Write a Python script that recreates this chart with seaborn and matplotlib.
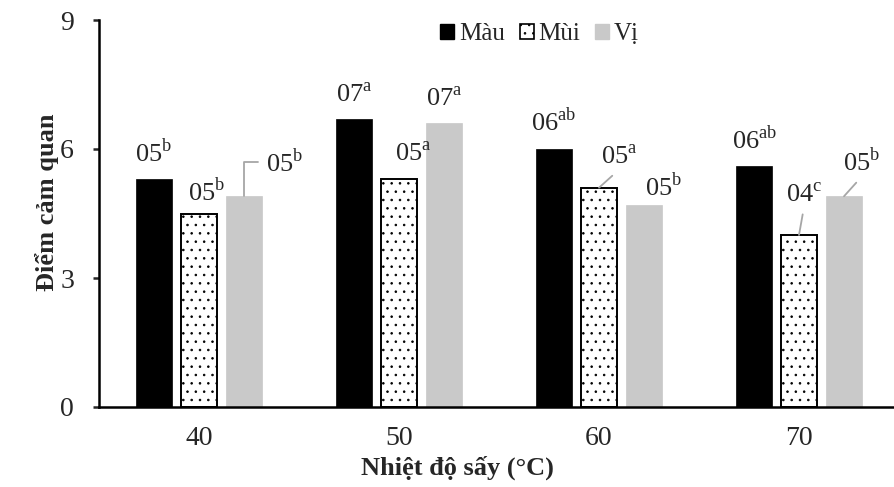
import pandas as pd
import seaborn as sns
import matplotlib.pyplot as plt
from matplotlib.patches import Patch

# Dữ liệu
nhiet_do = ['40', '50', '60', '70']
chi_tieu = ['Màu', 'Mùi', 'Vị']
diem_mau = [5.3, 6.7, 6.0, 5.6]
diem_mui = [4.5, 5.3, 5.1, 4.0]
diem_vi = [4.9, 6.6, 4.7, 4.9]
nhan_mau = ['05$^{\\mathrm{b}}$', '07$^{\\mathrm{a}}$', '06$^{\\mathrm{ab}}$', '06$^{\\mathrm{ab}}$']
nhan_mui = ['05$^{\\mathrm{b}}$', '05$^{\\mathrm{a}}$', '05$^{\\mathrm{a}}$', '04$^{\\mathrm{c}}$']
nhan_vi = ['05$^{\\mathrm{b}}$', '07$^{\\mathrm{a}}$', '05$^{\\mathrm{b}}$', '05$^{\\mathrm{b}}$']

mau_sac = {'Màu': '#000000', 'Mùi': '#ffffff', 'Vị': '#c9c9c9'}

# Vị trí nhãn (dx, dy theo pixel so với đỉnh cột) và kiểu đường dẫn
vi_tri_nhan = {
    'Màu': [(0, 17), (0, 16), (0, 18), (1, 17)],
    'Mùi': [(8, 13), (14, 18), (20, 23), (5, 33)],
    'Vị': [(41, 25), (0, 17), (20, 9), (18, 25)],
}
duong_dan = {
    ('Vị', 0): 'goc',
    ('Mùi', 2): 'thang',
    ('Mùi', 3): 'thang',
    ('Vị', 3): 'thang',
}

df = pd.DataFrame({
    'Nhiệt độ': nhiet_do * 3,
    'Điểm': diem_mau + diem_mui + diem_vi,
    'Chỉ tiêu': [c for c in chi_tieu for _ in nhiet_do],
})
nhan = {'Màu': nhan_mau, 'Mùi': nhan_mui, 'Vị': nhan_vi}

sns.set_style('white')
plt.rcParams['font.family'] = ['Liberation Serif', 'DejaVu Serif']
plt.rcParams['mathtext.fontset'] = 'custom'
plt.rcParams['mathtext.rm'] = 'Liberation Serif'
plt.rcParams['hatch.linewidth'] = 0.6

fig = plt.figure(figsize=(8.95, 4.87), dpi=100)
ax = fig.add_axes([99 / 895, 80 / 487, 796 / 895, 387 / 487])

sns.barplot(data=df, x='Nhiệt độ', y='Điểm', hue='Chỉ tiêu', hue_order=chi_tieu,
            palette=mau_sac, saturation=1, width=0.675, gap=0.22,
            legend=False, ax=ax)

for cont, ten in zip(ax.containers, chi_tieu):
    for i, bar in enumerate(cont):
        if ten == 'Mùi':
            bar.set_edgecolor('black')
            bar.set_linewidth(1.4)
            bar.set_hatch('..')
        else:
            bar.set_edgecolor(mau_sac[ten])
            bar.set_linewidth(0.5)
        x = bar.get_x() + bar.get_width() / 2
        y = bar.get_height()
        dx, dy = vi_tri_nhan[ten][i]
        kieu = duong_dan.get((ten, i))
        arrow = None
        if kieu == 'goc':
            arrow = dict(arrowstyle='-', color='#a6a6a6', lw=1.3,
                         connectionstyle='angle,angleA=0,angleB=90,rad=0',
                         relpos=(0, 0.5), shrinkA=4, shrinkB=0)
        elif kieu == 'thang':
            arrow = dict(arrowstyle='-', color='#a6a6a6', lw=1.3,
                         relpos=(0.5, 0), shrinkA=3, shrinkB=0)
        if kieu == 'goc':
            ax.annotate(nhan[ten][i], xy=(x, y), xytext=(dx, dy + 9),
                        textcoords='offset pixels', ha='center', va='center',
                        fontsize=19, arrowprops=arrow)
        else:
            ax.annotate(nhan[ten][i], xy=(x, y), xytext=(dx, dy),
                        textcoords='offset pixels', ha='center', va='baseline',
                        fontsize=19, arrowprops=arrow)

ax.set_ylim(0, 9)
ax.set_yticks([0, 3, 6, 9])
ax.set_xlim(-0.5, 3.48)
ax.tick_params(axis='y', direction='out', length=4, width=1.8, pad=14, labelsize=20, left=True)
ax.tick_params(axis='x', length=0, pad=14, labelsize=20)
for s in ['top', 'right']:
    ax.spines[s].set_visible(False)
for s in ['left', 'bottom']:
    ax.spines[s].set_linewidth(1.8)
    ax.spines[s].set_color('black')

ax.set_xlabel('Nhiệt độ sấy (°C)', fontsize=19, fontweight='bold')
ax.set_ylabel('Điểm cảm quan', fontsize=19, fontweight='bold')
ax.xaxis.set_label_coords(0.45, -0.125)
ax.yaxis.set_label_coords(-0.05, 0.53)

handles = [
    Patch(facecolor='black', edgecolor='black', label='Màu'),
    Patch(facecolor='white', edgecolor='black', hatch='..', linewidth=1.2, label='Mùi'),
    Patch(facecolor='#c9c9c9', edgecolor='#c9c9c9', label='Vị'),
]
fig.legend(handles=handles, loc='center', bbox_to_anchor=(0.603, 0.93), ncol=3,
           frameon=False, fontsize=18, handlelength=0.55, handleheight=0.55,
           handletextpad=0.2, columnspacing=0.6)

fig.savefig('out.png', dpi=100)
